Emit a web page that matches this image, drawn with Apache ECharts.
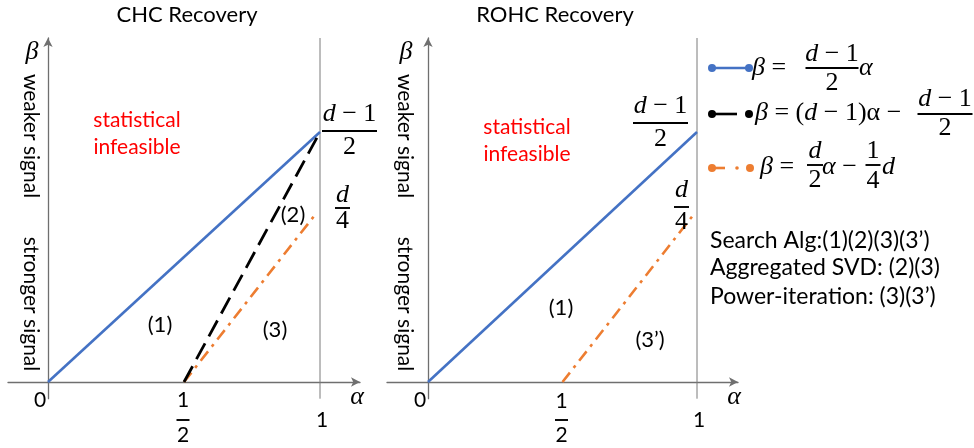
<!DOCTYPE html>
<html>
<head>
<meta charset="utf-8">
<script src="https://cdn.jsdelivr.net/npm/echarts@6/dist/echarts.min.js"></script>
<style>
html,body{margin:0;padding:0;background:#fff;}
#c{width:974px;height:448px;}
</style>
</head>
<body>
<div id="c"></div>
<script>
// ---- data (d ≈ 4) ----
const panels = ['CHC Recovery', 'ROHC Recovery'];
const blueLine = [[0, 0], [1, 1.5]];              // β = (d-1)/2 α
const blackLineCHC = [[0.5, 0], [1, 1.5]];        // β = (d-1)α - (d-1)/2
const orangeLineCHC = [[0.5, 0], [0.985, 1.01]];  // β = d/2 α - d/4
const orangeLineROHC = [[0.5, 0], [0.99, 1.01]];
const boundaryLine = [[1, -0.1], [1, 2.064]];     // α = 1
const xTickValues = [0, 0.5, 1];
const xTickLabels = ['0', '1/2', '1'];
const regionLabelsCHC = ['(1)', '(2)', '(3)'];
const regionLabelsROHC = ['(1)', '(3’)'];
const algoNotes = ['Search Alg:(1)(2)(3)(3’)', 'Aggregated SVD: (2)(3)', 'Power-iteration: (3)(3’)'];

const SANS = 'Lato, "Open Sans", sans-serif';
const SERIF = '"Liberation Serif", "DejaVu Serif", serif';
const BLUE = '#4472C4', ORANGE = '#ED7D31', BLACK = '#000000', AXIS = '#6f6f6f';
const MS = 26; // math font size

const chart = echarts.init(document.getElementById('c'));

function axisPair(i, left, width, xmin, xmax) {
  return {
    grid: {left: left, top: 38, width: width, height: 360.7},
    x: {type: 'value', gridIndex: i, min: xmin, max: xmax,
        axisLine: {onZero: true, symbol: ['none', 'arrow'], symbolSize: [7, 9], lineStyle: {color: AXIS, width: 1.3}},
        axisTick: {show: false}, axisLabel: {show: false}, splitLine: {show: false}},
    y: {type: 'value', gridIndex: i, min: -0.1, max: 2.064,
        axisLine: {onZero: true, symbol: ['none', 'arrow'], symbolSize: [7, 9], lineStyle: {color: AXIS, width: 1.3}},
        axisTick: {show: false}, axisLabel: {show: false}, splitLine: {show: false}}
  };
}
const p0 = axisPair(0, 8, 352, -0.147, 1.147);
const p1 = axisPair(1, 387, 351, -0.1524, 1.1524);

function lineSeries(i, data, color, width, type, z) {
  return {type: 'line', xAxisIndex: i, yAxisIndex: i, data: data, symbol: 'none', silent: true,
          clip: false, z: z || 2, animation: false,
          lineStyle: {color: color, width: width, type: type}};
}

chart.setOption({
  animation: false,
  grid: [p0.grid, p1.grid],
  xAxis: [p0.x, p1.x],
  yAxis: [p0.y, p1.y],
  series: [
    lineSeries(0, boundaryLine, '#7a7a7a', 1, 'solid', 1),
    lineSeries(0, blueLine, BLUE, 2.6, 'solid'),
    lineSeries(0, orangeLineCHC, ORANGE, 2.6, [12, 6, 3, 6]),
    lineSeries(0, blackLineCHC, BLACK, 2.8, [18, 8], 3),
    lineSeries(1, boundaryLine, '#7a7a7a', 1, 'solid', 1),
    lineSeries(1, blueLine, BLUE, 2.6, 'solid'),
    lineSeries(1, orangeLineROHC, ORANGE, 2.6, [12, 6, 3, 6])
  ]
});

// ---- annotation helpers ----
const MR = {
  i: {fontFamily: SERIF, fontStyle: 'italic', fontSize: MS, fill: '#000'},
  u: {fontFamily: SERIF, fontSize: MS, fill: '#000'}
};
function txt(x, y, s, o) {
  o = o || {};
  return {type: 'text', x: x, y: y, rotation: o.rot || 0, silent: true, z: 10,
    style: {text: s, fill: o.color || '#000', fontSize: o.size || 20, fontFamily: o.family || SANS,
            fontStyle: o.italic ? 'italic' : 'normal', align: o.align || 'center',
            verticalAlign: o.va || 'middle', rich: o.rich}};
}
function mtxt(x, y, s, align) { return txt(x, y, s, {rich: MR, align: align || 'left', family: SERIF, size: MS}); }
function bar(x1, x2, y, w) {
  return {type: 'line', silent: true, z: 10, shape: {x1: x1, y1: y, x2: x2, y2: y},
          style: {stroke: '#000', lineWidth: w || 1.9}};
}
function frac(cx, barY, w, num, den, numY, denY, sans) {
  const els = [bar(cx - w / 2, cx + w / 2, barY)];
  if (sans) {
    els.push(txt(cx, numY, num, {size: 21}));
    els.push(txt(cx, denY, den, {size: 21}));
  } else {
    els.push(mtxt(cx, numY, num, 'center'));
    els.push(mtxt(cx, denY, den, 'center'));
  }
  return els;
}
function dot(x, y, color, r) {
  return {type: 'circle', silent: true, z: 10, shape: {cx: x, cy: y, r: r || 4}, style: {fill: color}};
}
function seg(x1, x2, y, color) {
  return {type: 'line', silent: true, z: 10, shape: {x1: x1, y1: y, x2: x2, y2: y},
          style: {stroke: color, lineWidth: 2.6}};
}

const g = [];
const px = (i, v) => chart.convertToPixel({xAxisIndex: i}, v);
const frMap = {'1/2': ['1', '2']};

// panel-wise decorations
[0, 1].forEach(function (i) {
  const x1 = px(i, 1);
  const titleX = i === 0 ? 187 : 555;
  g.push(txt(titleX, 15, panels[i], {size: 22}));
  const vx = i === 0 ? 31 : 405;
  g.push(txt(vx + 1, 52, 'β', {family: SERIF, italic: true, size: MS}));
  g.push(txt(vx, 136, 'weaker signal', {size: 21, rot: -Math.PI / 2}));
  g.push(txt(vx, 304, 'stronger signal', {size: 21, rot: -Math.PI / 2}));
  const rx = i === 0 ? 137 : 527, ry = i === 0 ? 120 : 127;
  g.push(txt(rx, ry, 'statistical', {size: 21, color: '#FF0000'}));
  g.push(txt(rx, ry + 27, 'infeasible', {size: 21, color: '#FF0000'}));
  xTickValues.forEach(function (v, k) {
    const lab = xTickLabels[k];
    const x = px(i, v);
    if (frMap[lab]) {
      Array.prototype.push.apply(g, frac(x - 1, 420, 13, frMap[lab][0], frMap[lab][1], i === 0 ? 400 : 401, 435, true));
    } else if (v === 0) {
      g.push(txt(x - 8, 400, lab, {size: 21}));
    } else {
      g.push(txt(x + 2, 420, lab, {size: 21}));
    }
  });
  g.push(txt(x1 + 37, 397, 'α', {family: SERIF, italic: true, size: MS}));
});

// curve end labels
Array.prototype.push.apply(g, frac(349.5, 131, 55, '{i|d}{u| − 1}', '{u|2}', 114, 147));
Array.prototype.push.apply(g, frac(342.5, 208, 15, '{i|d}', '{u|4}', 195, 221));
Array.prototype.push.apply(g, frac(660.5, 123, 55, '{i|d}{u| − 1}', '{u|2}', 106, 139));
Array.prototype.push.apply(g, frac(681.5, 207, 15, '{i|d}', '{u|4}', 190, 222));

// region labels
const regCHCpos = [[160, 325], [293, 215], [275, 330]];
regionLabelsCHC.forEach((s, k) => g.push(txt(regCHCpos[k][0], regCHCpos[k][1], s, {size: 22})));
const regROHCpos = [[561, 308], [650, 340]];
regionLabelsROHC.forEach((s, k) => g.push(txt(regROHCpos[k][0], regROHCpos[k][1], s, {size: 22})));

// legend
g.push(seg(712, 749, 68, BLUE), dot(712, 68, BLUE), dot(749, 68, BLUE));
g.push(mtxt(752, 68, '{i|β}{u| = }'));
Array.prototype.push.apply(g, frac(832, 68, 53, '{i|d}{u| − 1}', '{u|2}', 54, 83));
g.push(mtxt(859, 68, '{i|α}'));

g.push(seg(712, 737, 114, BLACK), dot(712, 114, BLACK), dot(749, 114, BLACK));
g.push(mtxt(755, 113, '{i|β}{u| = (}{i|d}{u| − 1)α −}'));
Array.prototype.push.apply(g, frac(945, 114, 55, '{i|d}{u| − 1}', '{u|2}', 99, 128));

g.push(seg(712, 725, 168, ORANGE), dot(712, 168, ORANGE), dot(737, 168, ORANGE, 1.8), dot(750, 168, ORANGE));
g.push(mtxt(760, 167, '{i|β}{u| =}'));
Array.prototype.push.apply(g, frac(815, 165, 16, '{i|d}', '{u|2}', 151, 180));
g.push(mtxt(822, 167, '{i|α}{u| − }'));
Array.prototype.push.apply(g, frac(873, 165, 15, '{u|1}', '{u|4}', 151, 181));
g.push(mtxt(882, 167, '{i|d}'));

// notes
algoNotes.forEach((s, k) => g.push(txt(710, [241, 268, 297][k], s, {size: 23, align: 'left'})));

chart.setOption({graphic: {elements: g}});
</script>
</body>
</html>
